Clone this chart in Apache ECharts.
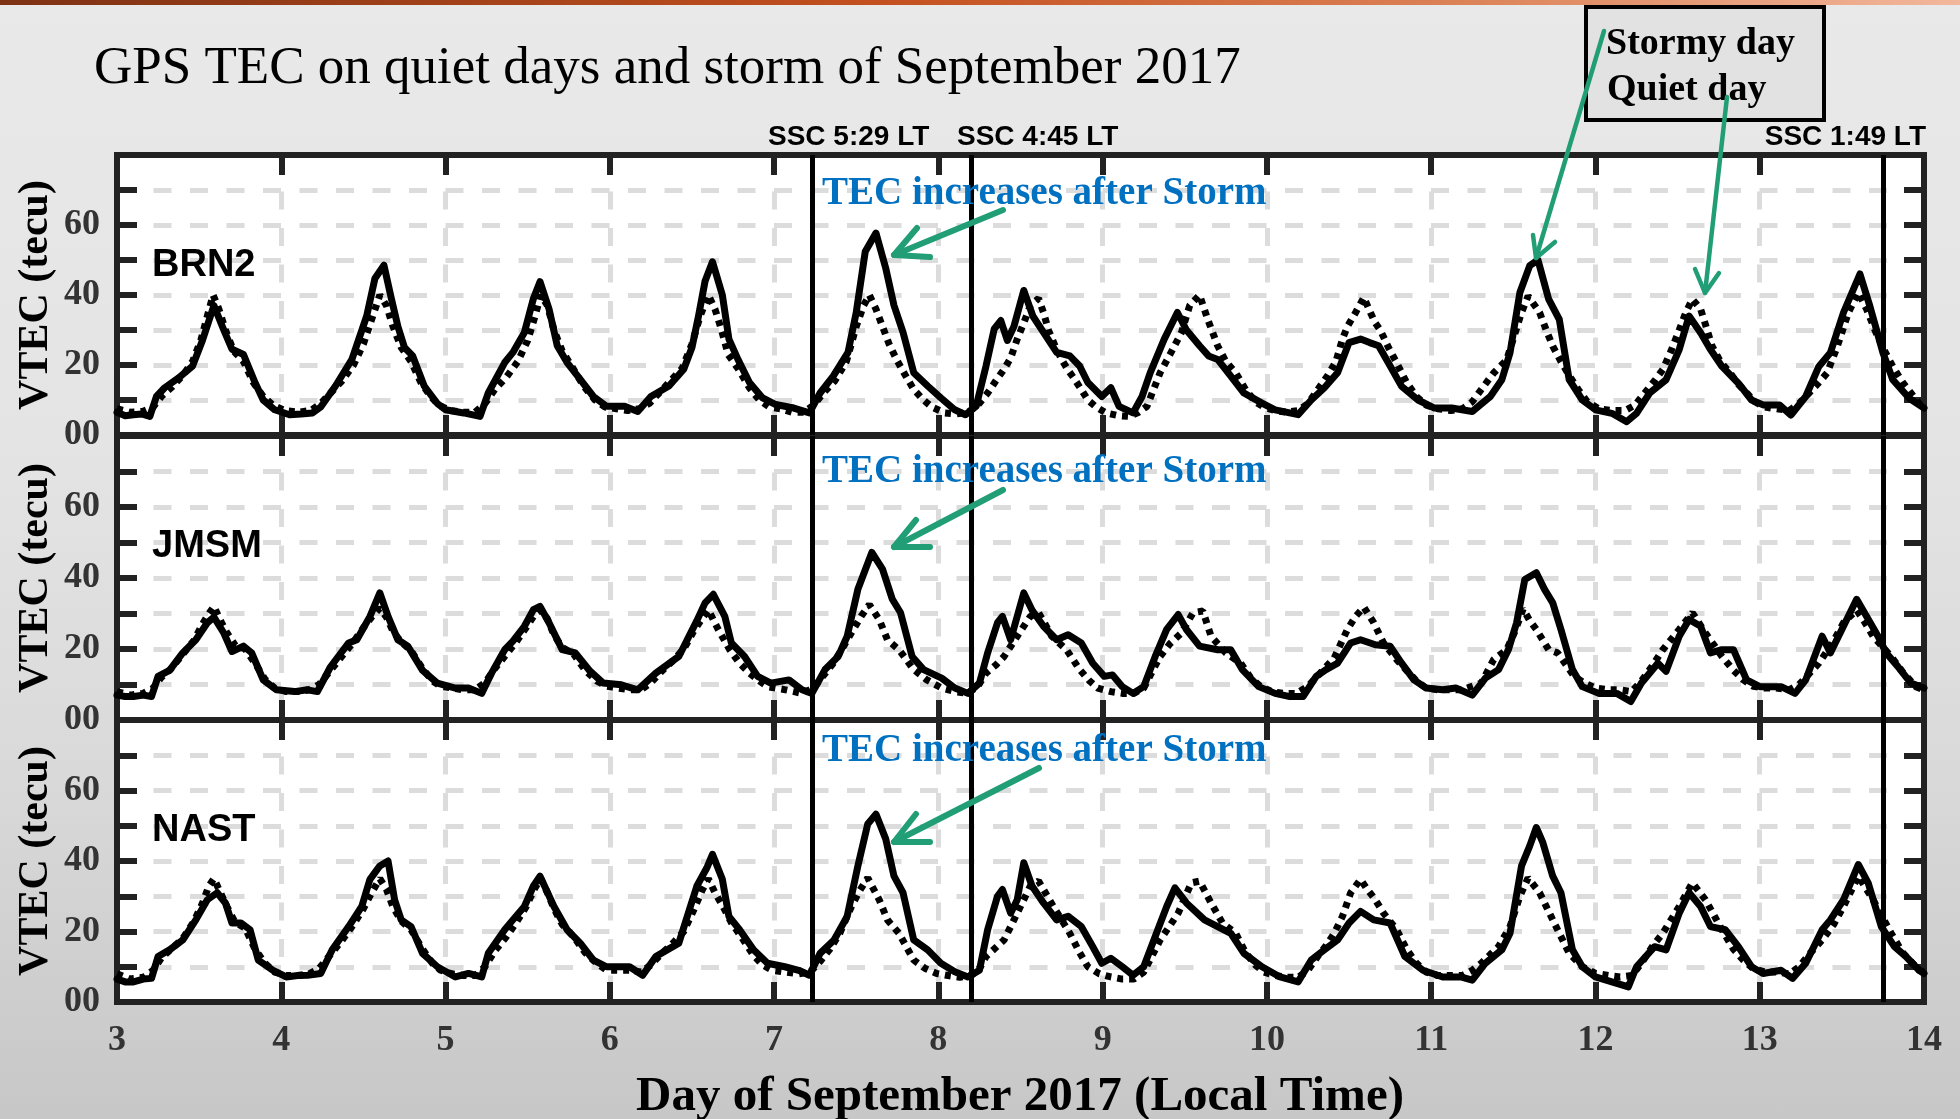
<!DOCTYPE html>
<html>
<head>
<meta charset="utf-8">
<title>GPS TEC on quiet days and storm of September 2017</title>
<script src="https://cdn.jsdelivr.net/npm/echarts@6/dist/echarts.min.js"></script>
<style>
  html, body { margin: 0; padding: 0; }
  #chart {
    width: 1960px; height: 1119px;
    background: linear-gradient(to bottom, #e9e9e9 0%, #e4e4e4 40%, #d9d9d9 70%, #c7c7c7 100%);
  }
</style>
</head>
<body>
<div id="chart"></div>
<script>
// ---- data -----------------------------------------------------------------
const STATIONS = ['BRN2', 'JMSM', 'NAST'];
const TITLE = 'GPS TEC on quiet days and storm of September 2017';
const X_TITLE = 'Day of September 2017 (Local Time)';
const Y_TITLE = 'VTEC (tecu)';
const NOTE = 'TEC increases after Storm';
const LEGEND_LABELS = ['Stormy day', 'Quiet day'];

// sudden storm commencements (day of month, local time)
const SSC_TIMES = [7.228, 8.198, 13.75];
const SSC_LABELS = ['SSC 5:29 LT', 'SSC 4:45 LT', 'SSC 1:49 LT'];

// [day, VTEC] — storm-period observations
const BRN2_STORM = [
  [3.00,6.5],[3.05,5.5],[3.10,5.8],[3.15,6],[3.20,5.3],[3.24,11],[3.29,13.5],[3.375,16.3],[3.46,19.7],[3.52,27],[3.59,37],[3.65,30],[3.70,24.5],[3.77,23],[3.84,15],[3.89,10],[3.96,7.2],
  [4.05,5.8],[4.12,6],[4.19,6.3],[4.24,8],[4.33,14],[4.43,21.6],[4.52,34],[4.57,44.7],[4.625,48.5],[4.67,39],[4.71,31],[4.75,25],[4.80,22.6],[4.87,14],[4.95,9],
  [5.00,7.2],[5.11,6.3],[5.21,5.3],[5.26,12],[5.36,20.7],[5.41,23.6],[5.48,29.3],[5.535,39],[5.575,43.8],[5.63,36],[5.68,25.5],[5.74,20.7],[5.82,15.9],[5.90,11],[5.98,8.2],
  [6.09,8.2],[6.17,6.7],[6.25,11],[6.36,14],[6.45,18.8],[6.50,25],[6.54,34],[6.58,44],[6.625,49.5],[6.685,40],[6.725,27.4],[6.78,21.6],[6.85,15],[6.93,10.6],
  [7.01,8.7],[7.12,7.7],[7.215,6.3],[7.28,12],[7.36,16.8],[7.45,23.6],[7.50,35],[7.555,52.4],[7.62,57.7],[7.68,47.6],[7.73,37],[7.785,29.3],[7.85,17.8],[7.935,14],
  [8.015,10.6],[8.10,7.2],[8.165,5.8],[8.23,8.2],[8.29,19.7],[8.34,30.3],[8.38,32.7],[8.42,27],[8.46,31],[8.52,41.3],[8.575,34],[8.64,29.3],[8.72,23.6],[8.80,22.6],[8.86,19.7],[8.91,15],
  [8.995,11],[9.05,13.5],[9.10,8.2],[9.185,6.3],[9.24,11],[9.29,17.8],[9.375,27.4],[9.455,35],[9.51,30],[9.59,25.5],[9.645,22.6],[9.70,21.6],[9.78,16.8],[9.86,12],[9.97,9.1],
  [10.05,7.2],[10.19,5.8],[10.27,10],[10.35,13.5],[10.43,17.8],[10.50,26.4],[10.57,27.4],[10.625,26.4],[10.68,25.5],[10.74,20.6],[10.82,13.9],[10.92,10],
  [11.02,7.7],[11.125,7.7],[11.25,6.7],[11.36,11],[11.43,15.8],[11.48,23.5],[11.54,40.7],[11.60,48.4],[11.65,50],[11.715,38.8],[11.78,33],[11.84,15.8],[11.92,10],
  [12.00,7.2],[12.10,6.2],[12.19,3.8],[12.25,6.2],[12.33,12],[12.43,15.8],[12.51,24.4],[12.57,34],[12.64,29.2],[12.70,24.4],[12.77,19.6],[12.87,14.8],[12.95,10],
  [13.02,8.6],[13.12,8.6],[13.19,5.7],[13.28,11],[13.36,19.6],[13.43,23.5],[13.51,35],[13.61,46],[13.67,36.9],[13.75,23.5],[13.81,15.8],[13.91,10.5],[14.00,7.7]
];
const JMSM_STORM = [
  [3.00,7],[3.05,6.6],[3.10,6.6],[3.16,7],[3.21,6.6],[3.25,12.3],[3.32,14],[3.40,18.9],[3.48,22.6],[3.55,27.4],[3.59,29],[3.65,24.5],[3.70,19.3],[3.77,20.8],[3.82,18.9],[3.89,11.3],[3.97,8.5],
  [4.08,8],[4.16,8.5],[4.22,8],[4.30,15],[4.41,21.7],[4.46,22.6],[4.54,29.2],[4.60,35.8],[4.65,29.2],[4.71,22.6],[4.77,20.8],[4.86,14],[4.95,10.4],
  [5.06,9],[5.14,9],[5.22,7.5],[5.28,13.2],[5.36,19.8],[5.41,22.2],[5.48,26.4],[5.535,31.1],[5.575,32],[5.63,27.4],[5.71,19.8],[5.79,18.9],[5.875,14],[5.96,10.4],
  [6.07,9.9],[6.17,8.5],[6.28,13.2],[6.42,17.9],[6.53,28],[6.58,33],[6.63,35.4],[6.70,29.2],[6.74,21.7],[6.82,17.9],[6.90,12.3],[6.98,10.4],
  [7.09,11.3],[7.17,8.5],[7.23,7.5],[7.31,14.2],[7.39,17.9],[7.445,23.6],[7.51,36.8],[7.595,47.2],[7.66,42.5],[7.72,34],[7.77,30.2],[7.84,17.9],[7.91,14.2],
  [8.02,11.8],[8.10,9],[8.18,7.5],[8.25,10.4],[8.30,18.9],[8.36,27.4],[8.39,29.2],[8.44,22.6],[8.48,29.2],[8.52,35.8],[8.57,31],[8.64,26.4],[8.72,22.6],[8.79,24],[8.87,21.7],[8.94,16],
  [9.01,12.3],[9.06,12.7],[9.12,9.4],[9.185,7.5],[9.25,9.4],[9.32,17.9],[9.39,25.5],[9.46,29.7],[9.51,25.5],[9.59,20.8],[9.70,19.8],[9.78,19.8],[9.85,14.2],[9.95,9.4],
  [10.05,7.5],[10.14,6.6],[10.22,6.6],[10.30,12.3],[10.36,14.2],[10.43,16],[10.51,21.7],[10.57,22.6],[10.66,21.2],[10.75,20.8],[10.82,16],[10.895,11.3],[10.97,9],
  [11.07,8.5],[11.15,9],[11.25,7],[11.33,11.8],[11.41,14.2],[11.47,19.8],[11.52,27.4],[11.57,39.6],[11.64,41.5],[11.69,36.8],[11.74,33],[11.79,25.5],[11.86,14.2],[11.92,9.4],
  [12.02,7.5],[12.13,7.5],[12.215,5.2],[12.28,10.4],[12.38,16],[12.43,13.7],[12.51,23.6],[12.57,28.3],[12.64,26.4],[12.70,18.9],[12.77,19.8],[12.84,19.8],[12.92,11.3],
  [13.00,9.4],[13.13,9.4],[13.215,7.5],[13.28,11.3],[13.38,23.6],[13.43,18.9],[13.50,25.5],[13.59,34],[13.65,29.2],[13.72,23.6],[13.77,18.9],[13.84,15.1],[13.92,10.4],[14.00,9]
];
const NAST_STORM = [
  [3.00,6.5],[3.05,5.7],[3.10,5.7],[3.16,6.5],[3.21,6.7],[3.25,12.9],[3.32,14.8],[3.40,17.6],[3.48,23.3],[3.55,29],[3.61,31],[3.66,28.1],[3.70,22.4],[3.755,22.4],[3.81,20.5],[3.86,11.9],[3.95,9],
  [4.03,7.1],[4.10,7.5],[4.16,7.6],[4.24,8.1],[4.31,14.8],[4.41,21.4],[4.49,27.1],[4.54,34.8],[4.60,38.6],[4.65,40],[4.69,29],[4.73,23.3],[4.79,21.4],[4.86,13.8],[4.95,10],
  [5.06,7.1],[5.14,8.1],[5.22,7.1],[5.26,13.8],[5.36,20.5],[5.41,23.3],[5.48,27.1],[5.535,32.9],[5.575,35.7],[5.66,27.1],[5.74,20.5],[5.82,16.7],[5.90,11.9],[5.98,10],
  [6.12,10],[6.20,7.6],[6.28,12.9],[6.42,16.7],[6.53,32.9],[6.59,38],[6.625,41.9],[6.685,34.8],[6.725,24.3],[6.79,20.5],[6.875,14.8],[6.96,11],
  [7.065,10],[7.15,9],[7.215,7.6],[7.28,13.8],[7.365,17.6],[7.445,24.3],[7.51,38.6],[7.57,50.5],[7.62,53.3],[7.68,46.2],[7.73,35.7],[7.785,31],[7.85,17.6],[7.935,14.8],
  [8.015,11],[8.10,8.6],[8.18,7.1],[8.25,9],[8.30,20.5],[8.36,30],[8.39,31.9],[8.44,25.2],[8.48,29],[8.52,39.5],[8.57,32.9],[8.64,28.1],[8.72,23.3],[8.79,24.3],[8.87,21.4],[8.94,15.7],
  [8.995,11],[9.05,12.4],[9.12,10],[9.185,7.6],[9.25,10],[9.32,18.6],[9.39,27.1],[9.44,32.4],[9.51,28.1],[9.62,23.3],[9.70,21.4],[9.78,19.5],[9.86,13.8],[9.97,10],
  [10.08,7.1],[10.19,5.7],[10.27,11.9],[10.35,14.8],[10.43,17.6],[10.50,22.4],[10.57,25.7],[10.65,23.3],[10.75,22.4],[10.84,12.9],[10.95,9],
  [11.07,7.1],[11.18,7.1],[11.25,6.2],[11.33,11],[11.43,14.8],[11.48,19.5],[11.55,38.6],[11.60,44.3],[11.64,49.5],[11.68,45.2],[11.74,35.7],[11.79,31],[11.86,14.8],[11.92,10],
  [12.00,7.1],[12.10,5.7],[12.20,4.3],[12.25,10],[12.36,15.7],[12.43,14.8],[12.51,25.2],[12.57,31],[12.64,27.1],[12.70,21.4],[12.79,20.5],[12.87,15.7],[12.95,10],
  [13.02,8.1],[13.13,9],[13.20,6.7],[13.28,11],[13.38,20.5],[13.43,23.3],[13.51,29],[13.60,39],[13.66,33.8],[13.74,21.4],[13.82,15.7],[13.89,12.9],[13.97,9],[14.00,8.1]
];

// [day, VTEC] — quiet-day reference
const BRN2_QUIET = [
  [3.00,7.5],[3.08,6.5],[3.16,6.8],[3.22,8],[3.27,11],[3.33,13.5],[3.40,17],[3.46,21],[3.51,27],[3.55,34],[3.585,40],[3.62,36],[3.66,30],[3.71,24],[3.77,21],[3.83,15],[3.89,11],[3.95,8.5],
  [4.02,7],[4.10,6.5],[4.18,7],[4.24,9],[4.30,12],[4.37,15.5],[4.44,20],[4.50,26],[4.55,33],[4.60,40],[4.64,37],[4.68,31],[4.73,25],[4.79,21],[4.85,15],[4.91,11],[4.96,8.5],
  [5.03,7],[5.10,6.5],[5.18,6.5],[5.24,9],[5.30,13],[5.37,16.5],[5.44,21],[5.50,27],[5.545,34],[5.58,40],[5.62,37],[5.66,30],[5.71,24],[5.77,19.5],[5.84,14],[5.91,10],[5.97,8],
  [6.04,7.5],[6.11,7],[6.18,7.5],[6.24,9],[6.30,12],[6.37,15.5],[6.44,19],[6.50,26],[6.55,34],[6.60,40],[6.64,36],[6.68,30],[6.72,23],[6.78,19],[6.85,13.5],[6.91,10],[6.97,8],
  [7.04,7.5],[7.11,6.5],[7.18,6.5],[7.24,8.5],[7.30,12],[7.37,15.5],[7.44,21],[7.50,31],[7.545,37],[7.58,40],[7.62,36],[7.66,31],[7.70,26],[7.745,21.6],[7.80,17],[7.85,13],[7.91,10],[7.96,8],
  [8.04,6.3],[8.10,6],[8.18,6.5],[8.24,8.5],[8.30,12],[8.35,15.5],[8.40,18.8],[8.44,22],[8.48,27.4],[8.52,32],[8.56,37],[8.61,39],[8.64,35],[8.67,30],[8.71,25.5],[8.75,21.6],[8.79,18.5],[8.83,15.9],[8.87,13],[8.91,10],[8.96,8],
  [9.02,6.3],[9.10,5.5],[9.16,5.3],[9.22,6.5],[9.27,8.2],[9.31,13],[9.35,17.8],[9.41,23],[9.48,29.3],[9.53,37],[9.59,40],[9.64,33],[9.70,25.5],[9.75,21],[9.81,17.8],[9.87,13],[9.93,9.5],[9.98,8],
  [10.05,7],[10.12,6.5],[10.19,7],[10.25,9],[10.31,13],[10.37,17],[10.42,21],[10.46,27.4],[10.49,31],[10.54,35],[10.59,39.3],[10.63,35],[10.66,32],[10.69,30],[10.74,25],[10.79,20.6],[10.85,15],[10.91,11],[10.97,8.5],
  [11.04,7.5],[11.12,7],[11.19,7.5],[11.25,9.5],[11.305,13],[11.38,17.7],[11.46,21.5],[11.51,29],[11.55,35],[11.59,39.7],[11.66,35],[11.70,30],[11.74,25.4],[11.79,21],[11.84,17],[11.895,13],[11.95,9.5],
  [12.02,7.5],[12.10,7],[12.18,7],[12.24,8.5],[12.30,12],[12.36,15.5],[12.41,18.7],[12.46,24],[12.51,30],[12.55,35],[12.59,38.8],[12.64,36],[12.68,30],[12.71,25.4],[12.76,21],[12.82,17.7],[12.87,14.5],[12.92,12],[12.97,9.5],
  [13.03,8],[13.10,7.5],[13.18,7],[13.24,9],[13.30,12],[13.36,15],[13.41,17.7],[13.47,25],[13.54,35],[13.60,40.7],[13.65,36],[13.71,29],[13.76,24],[13.81,19.6],[13.87,15],[13.92,12],[13.97,9],[14.00,8]
];
const JMSM_QUIET = [
  [3.00,8],[3.08,7],[3.16,7.5],[3.22,9],[3.27,12],[3.33,14.5],[3.40,18.5],[3.47,22.5],[3.52,27],[3.56,30],[3.59,32],[3.63,28],[3.67,24.5],[3.72,21],[3.78,20],[3.84,16],[3.90,11.5],[3.96,9],
  [4.03,8],[4.10,8],[4.17,8.5],[4.23,10],[4.30,14],[4.37,18],[4.44,22],[4.50,26],[4.55,29],[4.60,31.5],[4.64,29],[4.68,25],[4.73,22],[4.79,19.5],[4.86,14.5],[4.92,11],[4.97,9.5],
  [5.04,9],[5.11,8.5],[5.18,8.5],[5.24,10.5],[5.30,14.5],[5.37,18.5],[5.43,22],[5.49,26],[5.54,29.5],[5.58,31],[5.62,28.5],[5.66,24],[5.71,20.5],[5.78,18.5],[5.85,14],[5.92,11],[5.98,9.5],
  [6.05,9],[6.12,8.5],[6.19,8.5],[6.25,10.5],[6.31,13.5],[6.38,16.5],[6.45,20],[6.51,25],[6.56,28.5],[6.60,31],[6.66,25.5],[6.73,19.8],[6.79,16],[6.85,13.2],[6.91,11],[6.96,9.4],
  [7.07,8.5],[7.17,7.5],[7.24,9],[7.30,12.5],[7.36,16],[7.42,20.5],[7.47,24.5],[7.53,29.2],[7.58,32.5],[7.64,28.3],[7.69,22.6],[7.76,19.8],[7.85,14.2],[7.93,11.3],
  [8.02,9],[8.10,8],[8.18,7.5],[8.24,9.5],[8.29,13.2],[8.35,15.5],[8.40,17.9],[8.48,23.6],[8.56,29.2],[8.61,30.2],[8.65,27],[8.69,23.6],[8.78,19.8],[8.86,14.2],[8.92,11],[8.97,9],
  [9.05,8],[9.12,7.5],[9.19,7.5],[9.25,9],[9.30,13.5],[9.35,17.9],[9.41,21.5],[9.48,24.5],[9.55,30.2],[9.61,30.7],[9.66,23.6],[9.75,18.9],[9.84,16],[9.90,12],[9.96,9.5],
  [10.03,8],[10.10,7.5],[10.18,7.5],[10.25,9.5],[10.31,12.5],[10.36,15],[10.41,17.5],[10.49,25.5],[10.54,29.2],[10.59,31.8],[10.65,27.4],[10.71,21.7],[10.79,17],[10.85,14],[10.91,11],[10.97,9],
  [11.04,8.5],[11.12,8.5],[11.19,8.5],[11.25,9.5],[11.305,10.4],[11.38,17],[11.46,19.8],[11.51,25],[11.56,31.3],[11.60,28],[11.64,25.5],[11.715,19.8],[11.77,18.9],[11.87,12.3],[11.93,10.5],
  [12.00,9],[12.08,8.5],[12.15,8.5],[12.22,8],[12.28,11],[12.35,15.5],[12.41,19.8],[12.51,25.5],[12.59,30.2],[12.67,24.5],[12.77,17.9],[12.84,14],[12.90,11.3],[12.96,9.5],
  [13.03,9],[13.10,9],[13.18,8.5],[13.24,10],[13.30,13],[13.36,16],[13.44,21.5],[13.51,27.4],[13.59,31],[13.64,27.5],[13.69,23.6],[13.80,17.9],[13.87,13.5],[13.95,9.4],[14.00,8.5]
];
const NAST_QUIET = [
  [3.00,8],[3.08,6.5],[3.16,7],[3.22,9],[3.27,12.5],[3.33,15],[3.40,18],[3.47,23],[3.52,28],[3.56,33],[3.59,35],[3.63,31],[3.67,27],[3.72,22.5],[3.78,21],[3.84,15],[3.90,11],[3.96,8.5],
  [4.03,7.5],[4.10,7.5],[4.17,8],[4.23,9.5],[4.30,13.5],[4.37,17.5],[4.44,22],[4.50,26.5],[4.55,31],[4.60,35],[4.64,32],[4.68,27],[4.73,23],[4.79,20.5],[4.86,15],[4.92,11],[4.97,9],
  [5.04,8],[5.11,7.5],[5.18,7.5],[5.24,10],[5.30,14.5],[5.37,18.5],[5.43,22.5],[5.49,27],[5.54,32],[5.58,35],[5.62,31],[5.66,26.5],[5.71,22],[5.78,18.5],[5.85,14],[5.92,11],[5.98,9],
  [6.05,9],[6.12,9],[6.19,8.5],[6.25,10.5],[6.31,13.5],[6.38,16.5],[6.45,20],[6.51,26],[6.56,31.5],[6.60,35],[6.64,31],[6.69,27],[6.74,22.5],[6.80,18.5],[6.87,13.5],[6.93,10.5],[6.99,9],
  [7.07,8.5],[7.15,8],[7.22,8.5],[7.28,11.5],[7.34,15],[7.40,19.5],[7.47,27],[7.52,31.5],[7.57,35.2],[7.64,29],[7.69,23.3],[7.76,19.5],[7.85,11.9],[7.92,9.5],[7.99,8.1],
  [8.06,7.5],[8.13,7],[8.20,7.5],[8.25,9.5],[8.29,12.9],[8.40,17.6],[8.48,25.2],[8.56,32.9],[8.61,34.3],[8.70,27.1],[8.80,19.5],[8.86,14],[8.91,10],[8.98,8],
  [9.05,7.1],[9.12,6.5],[9.19,6.5],[9.25,8.5],[9.30,13],[9.35,17.6],[9.40,21],[9.46,25.2],[9.54,33.8],[9.59,34.3],[9.66,28.1],[9.73,22.4],[9.81,19.5],[9.87,14],[9.93,10.5],[9.98,8.5],
  [10.05,7.5],[10.12,7],[10.19,7],[10.25,9],[10.31,13],[10.36,16],[10.41,19.5],[10.46,24.3],[10.51,31],[10.57,34.8],[10.61,32],[10.66,29],[10.71,25.2],[10.79,20.5],[10.85,15],[10.91,11],[10.97,8.5],
  [11.04,7.5],[11.12,7.5],[11.19,7.5],[11.25,9],[11.305,11],[11.36,13.5],[11.41,15.7],[11.48,21.4],[11.54,30],[11.59,35.2],[11.66,31],[11.74,23.3],[11.84,13.8],[11.92,10],
  [12.00,8.1],[12.08,7.5],[12.15,7.1],[12.22,7.5],[12.28,11],[12.35,16],[12.41,19.5],[12.51,27.1],[12.59,33.8],[12.67,29],[12.77,20.5],[12.84,15],[12.90,11.9],[12.96,9.5],
  [13.03,8.5],[13.10,8.5],[13.18,8],[13.24,10],[13.30,13.5],[13.38,17.6],[13.45,22],[13.51,27.1],[13.60,35.7],[13.69,29],[13.80,19.5],[13.87,14],[13.93,11],[13.97,9],[14.00,8.5]
];

const STORM = [BRN2_STORM, JMSM_STORM, NAST_STORM];
const QUIET = [BRN2_QUIET, JMSM_QUIET, NAST_QUIET];

// ---- layout & style ---------------------------------------------------------
const SERIF = '"Liberation Serif", "Times New Roman", serif';
const SANS = '"Liberation Sans", Arial, sans-serif';
const INK = '#222';
const GREEN = '#219e75';
const PANEL_TOP = [155, 436, 720];
const PANEL_H = [280, 284, 282];
const PLOT_LEFT = 117, PLOT_RIGHT = 36;

const frameLine = { show: true, onZero: false, lineStyle: { color: INK, width: 6, cap: 'square' } };
const innerTick = { show: true, inside: true, length: 20, lineStyle: { color: INK, width: 6 } };
const gridDash = { show: true, showMinLine: false, showMaxLine: false,
  lineStyle: { color: '#dcdcdc', width: 5, type: [18, 18.5] } };

const grids = [], xAxes = [], yAxes = [], series = [];
STATIONS.forEach((name, i) => {
  grids.push({ left: PLOT_LEFT, right: PLOT_RIGHT, top: PANEL_TOP[i], height: PANEL_H[i],
    show: true, backgroundColor: '#ffffff', borderWidth: 0, containLabel: false, outerBoundsMode: 'none' });
  const xBase = { type: 'value', gridIndex: i, min: 3, max: 14, interval: 1,
    axisLine: frameLine, axisTick: innerTick };
  xAxes.push(Object.assign({}, xBase, {
    position: 'bottom',
    splitLine: gridDash,
    axisLabel: { show: i === STATIONS.length - 1, fontFamily: SERIF, fontWeight: 'bold',
      fontSize: 36, color: '#333', margin: 21 }
  }));
  xAxes.push(Object.assign({}, xBase, { position: 'top', splitLine: { show: false }, axisLabel: { show: false } }));
  const yBase = { type: 'value', gridIndex: i, min: 0, max: 80, interval: 10,
    axisLine: frameLine, axisTick: innerTick };
  yAxes.push(Object.assign({}, yBase, {
    position: 'left',
    splitLine: gridDash,
    axisLabel: { fontFamily: SERIF, fontWeight: 'bold', fontSize: 36, color: '#333', margin: 17,
      formatter: v => (v === 0 ? '00' : (v % 20 === 0 && v < 80 ? String(v) : '')) }
  }));
  yAxes.push(Object.assign({}, yBase, { position: 'right', splitLine: { show: false }, axisLabel: { show: false } }));

  series.push({
    name: name + ' quiet', type: 'line', xAxisIndex: 2 * i, yAxisIndex: 2 * i,
    data: QUIET[i], showSymbol: false, symbol: 'none', z: 3,
    lineStyle: { color: '#000', width: 7, type: [6, 6], cap: 'butt' }
  });
  series.push({
    name: name + ' storm', type: 'line', xAxisIndex: 2 * i, yAxisIndex: 2 * i,
    data: STORM[i], showSymbol: false, symbol: 'none', z: 4,
    lineStyle: { color: '#000', width: 7, join: 'round', cap: 'round' },
    markLine: {
      silent: true, symbol: ['none', 'none'], label: { show: false },
      lineStyle: { color: '#000', width: 5, type: 'solid' },
      emphasis: { disabled: true },
      data: SSC_TIMES.map(t => ({ xAxis: t }))
    }
  });
});

// ---- annotations ----------------------------------------------------------
function txt(x, y, text, font, opts) {
  return {
    type: 'text', x: x, y: y, z: 100, silent: true,
    style: Object.assign({ text: text, font: font, fill: '#000', align: 'left', verticalAlign: 'middle' }, opts || {})
  };
}
function arrow(tail, tip, b1, b2, width) {
  const st = { stroke: GREEN, lineWidth: width, lineCap: 'round', lineJoin: 'round', fill: null };
  return [
    { type: 'polyline', z: 101, silent: true, shape: { points: [tail, tip] }, style: st },
    { type: 'polyline', z: 101, silent: true, shape: { points: [b1, tip, b2] }, style: st }
  ];
}

const graphics = [];
// header band
graphics.push({ type: 'rect', z: 100, silent: true, shape: { x: 0, y: 0, width: 1960, height: 5 },
  style: { fill: new echarts.graphic.LinearGradient(0, 0, 1, 0, [
    { offset: 0, color: '#7e3214' }, { offset: 0.45, color: '#c4501f' },
    { offset: 0.75, color: '#dc8358' }, { offset: 1, color: '#f2b79c' }]) } });
graphics.push(txt(94, 69, TITLE, '53px ' + SERIF));

// legend box
graphics.push({ type: 'rect', z: 100, silent: true, shape: { x: 1586, y: 7, width: 238, height: 113 },
  style: { fill: '#e2e2e2', stroke: '#000', lineWidth: 4 } });
graphics.push(txt(1606, 44.5, LEGEND_LABELS[0], 'bold 38px ' + SERIF));
graphics.push(txt(1607, 90, LEGEND_LABELS[1], 'bold 38px ' + SERIF));

// storm commencement labels
graphics.push(txt(768, 137, SSC_LABELS[0], 'bold 28px ' + SANS));
graphics.push(txt(957, 137, SSC_LABELS[1], 'bold 28px ' + SANS));
graphics.push(txt(1926, 137, SSC_LABELS[2], 'bold 28px ' + SANS, { align: 'right' }));

// per-panel texts
const NOTE_Y = [193.5, 471.5, 751];
const STATION_Y = [266, 547, 831];
const YNAME_Y = [295, 578, 861];
STATIONS.forEach((name, i) => {
  graphics.push(txt(822, NOTE_Y[i], NOTE, 'bold 39px ' + SERIF, { fill: '#0070c0' }));
  graphics.push(txt(152, STATION_Y[i], name, 'bold 38px ' + SANS));
  const yn = txt(36, YNAME_Y[i], Y_TITLE, 'bold 42px ' + SERIF, { align: 'center' });
  yn.rotation = Math.PI / 2;
  graphics.push(yn);
});
graphics.push(txt(1020, 1097, X_TITLE, 'bold 49px ' + SERIF, { align: 'center' }));

// arrows
graphics.push(...arrow([1003, 210], [894, 255], [917, 228], [930, 257], 6));
graphics.push(...arrow([1003, 490], [894, 547], [916, 520], [930, 547], 6));
graphics.push(...arrow([1039, 768], [894, 842], [916, 814], [930, 842], 6));
graphics.push(...arrow([1604, 31], [1536, 258], [1533, 235], [1555, 242], 4.5));
graphics.push(...arrow([1727, 97], [1705, 293], [1695, 269], [1719, 273], 4.5));

// ---- chart ----------------------------------------------------------------
const chart = echarts.init(document.getElementById('chart'), null, { renderer: 'canvas' });
chart.setOption({
  animation: false,
  backgroundColor: 'transparent',
  grid: grids,
  xAxis: xAxes,
  yAxis: yAxes,
  series: series,
  graphic: graphics
});
</script>
</body>
</html>
